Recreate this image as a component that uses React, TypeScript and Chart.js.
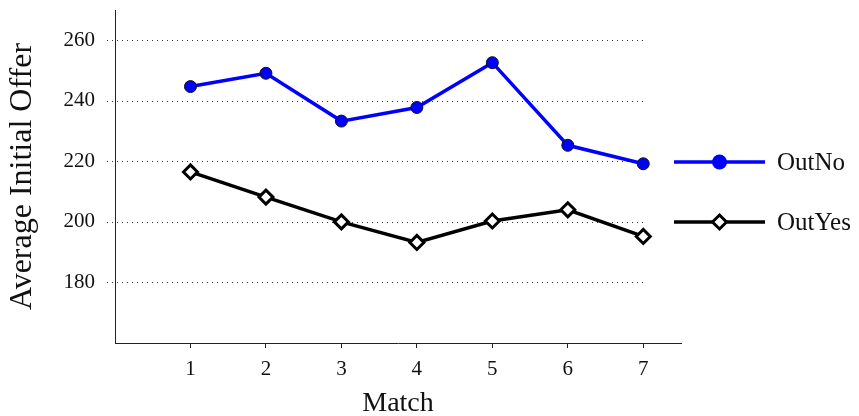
import React, { useEffect, useRef } from "react";
import { Chart, registerables } from "chart.js";

Chart.register(...registerables);

const matches = [1, 2, 3, 4, 5, 6, 7];
const outNo = [244.7, 249.1, 233.3, 237.8, 252.6, 225.3, 219.2];
const outYes = [216.5, 208.2, 200.0, 193.2, 200.3, 204.0, 195.2];
const yTicks = [180, 200, 220, 240, 260];
const seriesNames = ["OutNo", "OutYes"];

const FONT = "'Liberation Serif', 'Times New Roman', serif";

const gridPlugin = {
  id: "dottedGrid",
  beforeDatasetsDraw(chart: any) {
    const { ctx, chartArea, scales } = chart;
    const ys = scales.y;
    const xs = scales.x;
    const x0 = chartArea.left - 8;
    const x1 = xs.getPixelForValue(matches[matches.length - 1]);
    ctx.save();
    ctx.strokeStyle = "#333";
    ctx.lineWidth = 1;
    ctx.setLineDash([1, 4]);
    for (const v of yTicks) {
      const y = Math.round(ys.getPixelForValue(v)) + 0.5;
      ctx.beginPath();
      ctx.moveTo(x0, y);
      ctx.lineTo(x1, y);
      ctx.stroke();
    }
    ctx.restore();
  },
};

const legendPlugin = {
  id: "lineLegend",
  afterDraw(chart: any) {
    const { ctx, chartArea } = chart;
    const x0 = chartArea.right - 7;
    const len = 91;
    chart.data.datasets.forEach((ds: any, i: number) => {
      const y = 162 + i * 60;
      ctx.save();
      ctx.strokeStyle = ds.borderColor;
      ctx.lineWidth = ds.borderWidth;
      ctx.beginPath();
      ctx.moveTo(x0, y);
      ctx.lineTo(x0 + len, y);
      ctx.stroke();
      const cx = x0 + len / 2;
      if (ds.pointStyle === "circle") {
        ctx.fillStyle = ds.pointBackgroundColor;
        ctx.beginPath();
        ctx.arc(cx, y, 7.5, 0, Math.PI * 2);
        ctx.fill();
      } else {
        const r = 7;
        ctx.fillStyle = ds.pointBackgroundColor;
        ctx.strokeStyle = ds.pointBorderColor;
        ctx.lineWidth = ds.pointBorderWidth;
        ctx.beginPath();
        ctx.moveTo(cx, y - r);
        ctx.lineTo(cx + r, y);
        ctx.lineTo(cx, y + r);
        ctx.lineTo(cx - r, y);
        ctx.closePath();
        ctx.fill();
        ctx.stroke();
      }
      ctx.fillStyle = "#111";
      ctx.font = `25px ${FONT}`;
      ctx.textAlign = "left";
      ctx.textBaseline = "middle";
      ctx.fillText(ds.label, x0 + len + 12, y + 1);
      ctx.restore();
    });
  },
};

export default function App() {
  const ref = useRef<HTMLCanvasElement | null>(null);
  useEffect(() => {
    if (!ref.current) return;
    const chart = new Chart(ref.current, {
      type: "line",
      data: {
        datasets: [
          {
            label: seriesNames[0],
            data: matches.map((m, i) => ({ x: m, y: outNo[i] })),
            borderColor: "#0000ff",
            borderWidth: 3.5,
            pointStyle: "circle",
            pointRadius: 6,
            pointBackgroundColor: "#0000ff",
            pointBorderColor: "#111",
            pointBorderWidth: 1,
            tension: 0,
          },
          {
            label: seriesNames[1],
            data: matches.map((m, i) => ({ x: m, y: outYes[i] })),
            borderColor: "#000000",
            borderWidth: 3.5,
            pointStyle: "rectRot",
            pointRadius: 7,
            pointBackgroundColor: "#ffffff",
            pointBorderColor: "#000000",
            pointBorderWidth: 3,
            tension: 0,
          },
        ],
      },
      options: {
        animation: false,
        responsive: false,
        layout: { padding: { top: 10, right: 178, bottom: 0, left: 0 } },
        plugins: { legend: { display: false }, tooltip: { enabled: false } },
        scales: {
          x: {
            type: "linear",
            min: 0,
            max: 7.5,
            afterBuildTicks: (s: any) => {
              s.ticks = matches.map((v) => ({ value: v }));
            },
            afterFit: (s: any) => {
              s.height = 73;
              s.paddingLeft = 0;
              s.paddingRight = 0;
            },
            grid: {
              display: true,
              drawOnChartArea: false,
              drawTicks: true,
              tickLength: 5,
              color: "#222",
              lineWidth: 1,
            },
            border: { display: true, color: "#222", width: 1 },
            ticks: {
              color: "#111",
              padding: 9,
              font: { family: FONT, size: 21 },
              maxRotation: 0,
            },
            title: {
              display: true,
              text: "Match",
              color: "#111",
              font: { family: FONT, size: 28, lineHeight: 1 },
              padding: { top: 0, bottom: -2 },
            },
          },
          y: {
            type: "linear",
            min: 160,
            max: 270,
            afterBuildTicks: (s: any) => {
              s.ticks = yTicks.map((v) => ({ value: v }));
            },
            afterFit: (s: any) => {
              s.width = 115;
              s.paddingTop = 0;
              s.paddingBottom = 0;
            },
            grid: { display: false, drawTicks: false },
            border: { display: true, color: "#222", width: 1 },
            ticks: {
              color: "#111",
              padding: 20,
              font: { family: FONT, size: 21 },
            },
            title: {
              display: true,
              text: "Average Initial Offer",
              color: "#111",
              font: { family: FONT, size: 32 },
              padding: { top: 3, bottom: 0 },
            },
          },
        },
      },
      plugins: [gridPlugin, legendPlugin],
    } as any);
    return () => chart.destroy();
  }, []);
  return (
    <div style={{ position: "fixed", left: 0, top: 0, width: 859, height: 416, background: "#fff" }}>
      <canvas ref={ref} width={859} height={416} style={{ display: "block" }} />
    </div>
  );
}
